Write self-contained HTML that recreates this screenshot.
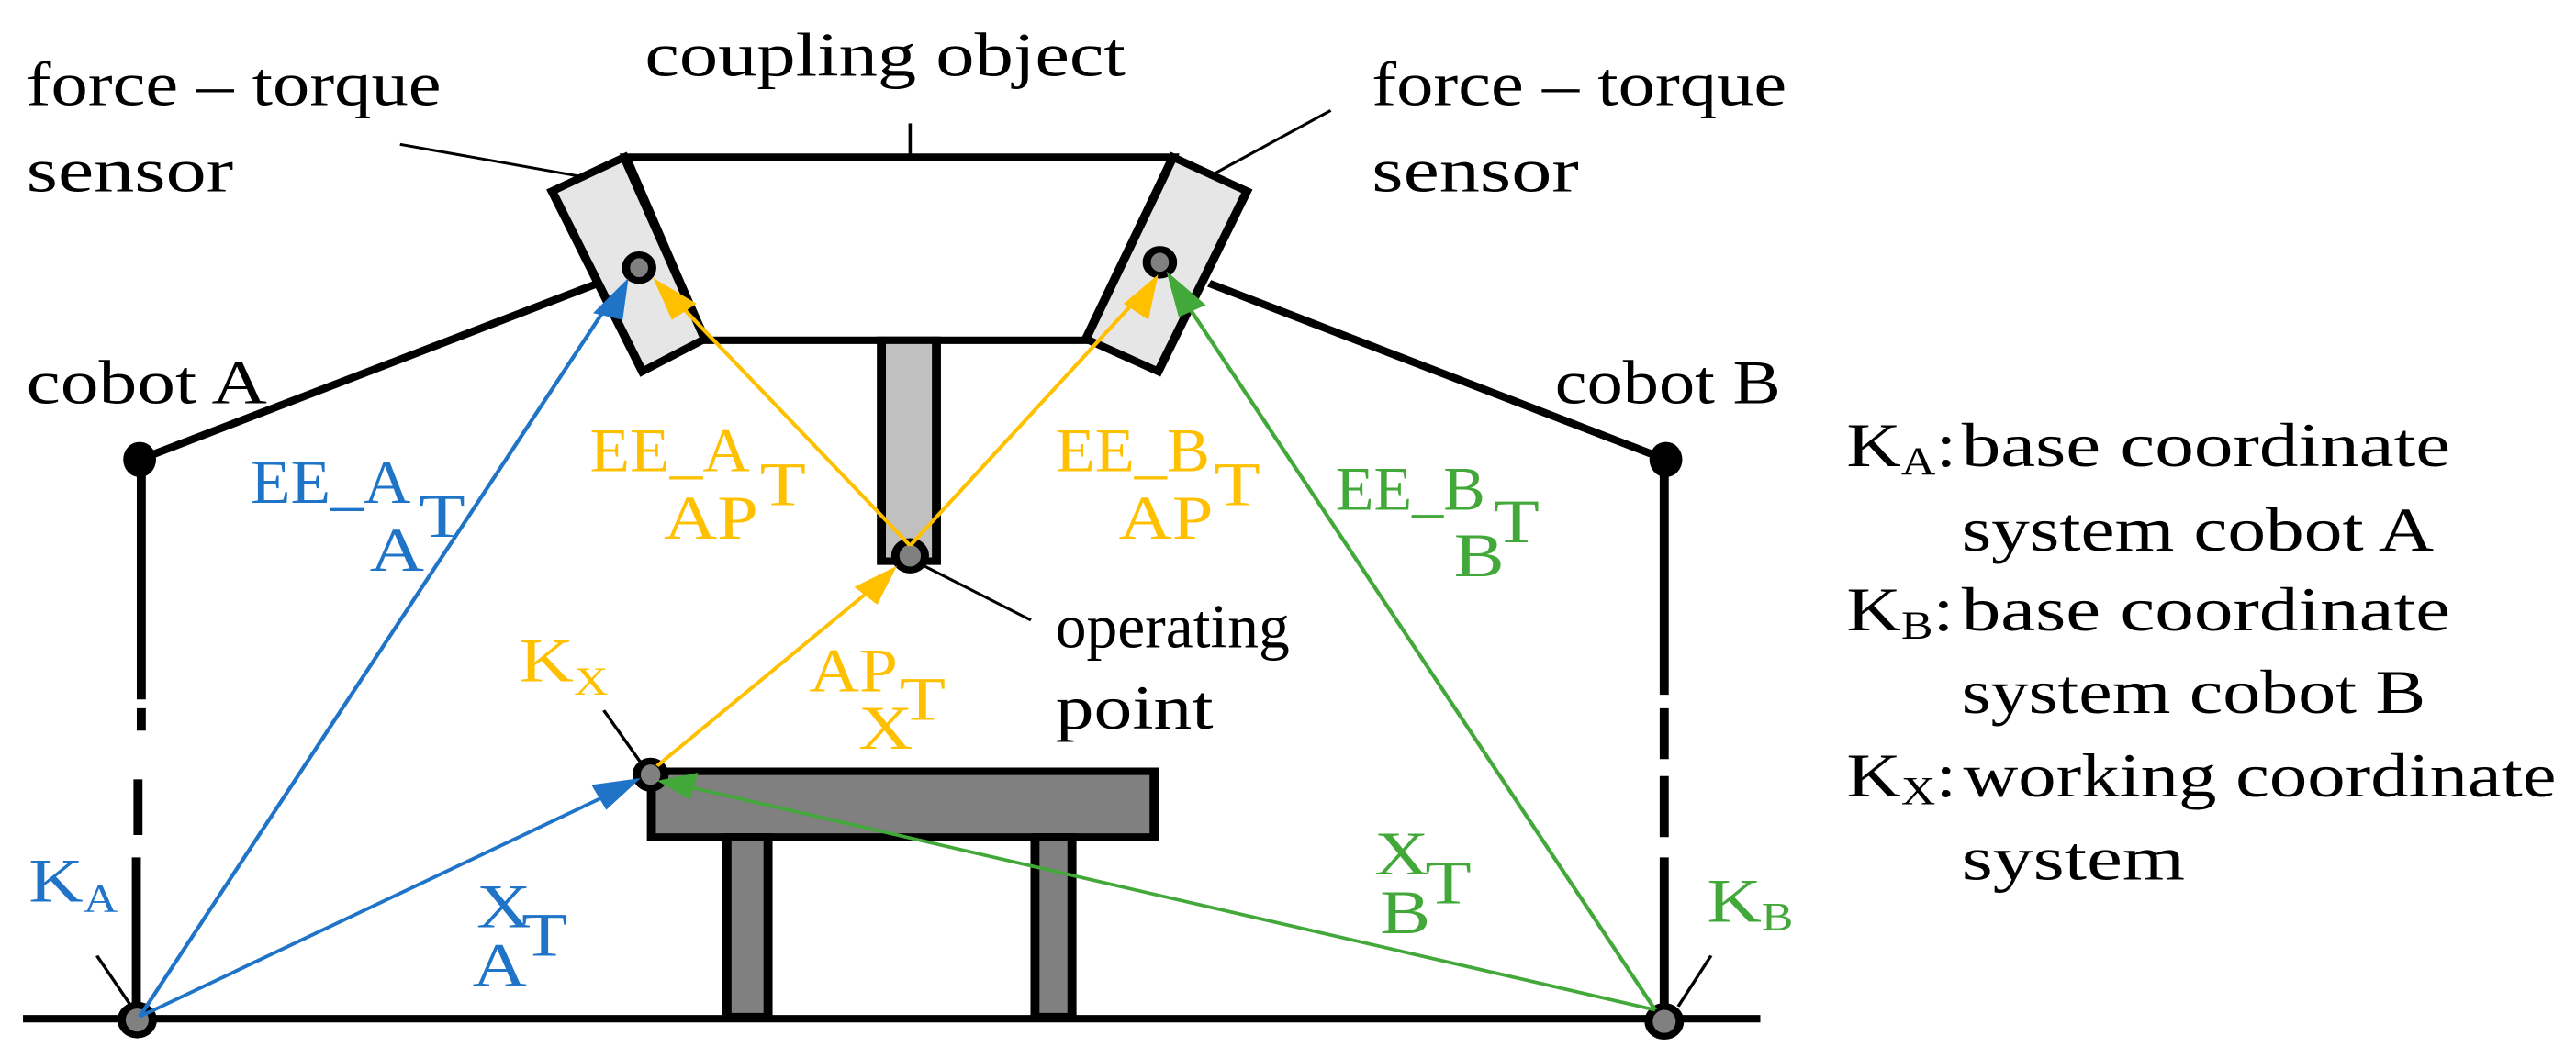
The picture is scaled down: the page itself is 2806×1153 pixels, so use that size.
<!DOCTYPE html>
<html><head><style>html,body{margin:0;padding:0;background:#fff;overflow:hidden}svg{display:block}</style></head><body>
<svg width="2806" height="1153" viewBox="0 0 3136 1561" preserveAspectRatio="none" xmlns="http://www.w3.org/2000/svg" font-family="'Liberation Serif', serif" font-size="92">
<g stroke="#000" stroke-width="11" fill="none">
<line x1="28" y1="1503" x2="2143" y2="1503"/>
<line x1="172" y1="680" x2="172" y2="1032"/>
<line x1="172" y1="1045" x2="172" y2="1078"/>
<line x1="168" y1="1150" x2="168" y2="1232"/>
<line x1="166" y1="1265" x2="166" y2="1495"/>
<line x1="2026" y1="680" x2="2026" y2="1025"/>
<line x1="2026" y1="1045" x2="2026" y2="1120"/>
<line x1="2026" y1="1145" x2="2026" y2="1235"/>
<line x1="2026" y1="1265" x2="2026" y2="1495"/>
<line x1="170" y1="678" x2="728" y2="418"/>
<line x1="1472" y1="418" x2="2028" y2="678"/>
</g>
<g stroke="#000" stroke-width="4">
<line x1="1108" y1="182" x2="1108" y2="232"/>
<line x1="487" y1="213" x2="715" y2="262"/>
<line x1="1480" y1="255" x2="1620" y2="163"/>
<line x1="1125" y1="835" x2="1255" y2="915"/>
<line x1="735" y1="1048" x2="780" y2="1125"/>
<line x1="118" y1="1410" x2="160" y2="1485"/>
<line x1="2083" y1="1410" x2="2043" y2="1485"/>
</g>
<ellipse cx="170" cy="678" rx="20" ry="26" fill="#000"/>
<ellipse cx="2028" cy="678" rx="20" ry="26" fill="#000"/>
<g stroke="#000" stroke-width="11" stroke-linejoin="miter">
<polygon points="762,232 1428,232 1325,502 858,502" fill="#fff"/>
<polygon points="672,282 760,232 858,500 782,548" fill="#e6e6e6"/>
<polygon points="1428,232 1518,282 1410,548 1322,500" fill="#e6e6e6"/>
<rect x="1073" y="502" width="67" height="326" fill="#c0c0c0"/>
<rect x="793" y="1138" width="612" height="97" fill="#808080"/>
<rect x="885" y="1235" width="50" height="265" fill="#808080"/>
<rect x="1260" y="1235" width="45" height="265" fill="#808080"/>
</g>
<g fill="#808080" stroke="#000" stroke-width="10">
<ellipse cx="778" cy="395" rx="16" ry="19"/>
<ellipse cx="1412" cy="387" rx="16" ry="19"/>
<ellipse cx="1108" cy="820" rx="18" ry="21"/>
<ellipse cx="792" cy="1143" rx="17" ry="20"/>
<ellipse cx="167" cy="1505" rx="19" ry="22"/>
<ellipse cx="2026" cy="1507" rx="19" ry="22"/>
</g>
<g stroke-width="5" fill="none">
<line x1="170" y1="1500" x2="745" y2="440" stroke="#1f74c8"/>
<line x1="170" y1="1500" x2="745" y2="1170" stroke="#1f74c8"/>
<line x1="1108" y1="805" x2="820" y2="440" stroke="#ffc000"/>
<line x1="1108" y1="805" x2="1385" y2="440" stroke="#ffc000"/>
<line x1="800" y1="1130" x2="1070" y2="860" stroke="#ffc000"/>
<line x1="2015" y1="1490" x2="1440" y2="440" stroke="#43a83a"/>
<line x1="2015" y1="1490" x2="835" y2="1160" stroke="#43a83a"/>
</g>
<g>
<polygon points="765,410 722,462 758,472" fill="#1f74c8"/>
<polygon points="780,1148 720,1158 738,1195" fill="#1f74c8"/>
<polygon points="795,410 818,472 848,448" fill="#ffc000"/>
<polygon points="1410,405 1368,448 1398,472" fill="#ffc000"/>
<polygon points="1092,835 1040,866 1068,892" fill="#ffc000"/>
<polygon points="1420,400 1435,468 1468,450" fill="#43a83a"/>
<polygon points="800,1152 850,1140 840,1180" fill="#43a83a"/>
</g>
<g fill="#000">
<text x="32" y="155" textLength="505" lengthAdjust="spacingAndGlyphs">force – torque</text>
<text x="32" y="282" textLength="252" lengthAdjust="spacingAndGlyphs">sensor</text>
<text x="785" y="112" textLength="585" lengthAdjust="spacingAndGlyphs">coupling object</text>
<text x="1670" y="155" textLength="505" lengthAdjust="spacingAndGlyphs">force – torque</text>
<text x="1670" y="282" textLength="252" lengthAdjust="spacingAndGlyphs">sensor</text>
<text x="32" y="595" textLength="293" lengthAdjust="spacingAndGlyphs">cobot A</text>
<text x="1893" y="595" textLength="275" lengthAdjust="spacingAndGlyphs">cobot B</text>
<text x="1285" y="955" textLength="285" lengthAdjust="spacingAndGlyphs">operating</text>
<text x="1285" y="1075" textLength="192" lengthAdjust="spacingAndGlyphs">point</text>
<text x="2248" y="688">K<tspan font-size="58" dy="12">A</tspan><tspan dy="-12">:</tspan></text>
<text x="2388" y="688" textLength="595" lengthAdjust="spacingAndGlyphs">base coordinate</text>
<text x="2388" y="812" textLength="575" lengthAdjust="spacingAndGlyphs">system cobot A</text>
<text x="2248" y="930">K<tspan font-size="58" dy="12">B</tspan><tspan dy="-12">:</tspan></text>
<text x="2388" y="930" textLength="595" lengthAdjust="spacingAndGlyphs">base coordinate</text>
<text x="2388" y="1052" textLength="565" lengthAdjust="spacingAndGlyphs">system cobot B</text>
<text x="2248" y="1175">K<tspan font-size="58" dy="12">X</tspan><tspan dy="-12">:</tspan></text>
<text x="2390" y="1175" textLength="722" lengthAdjust="spacingAndGlyphs">working coordinate</text>
<text x="2388" y="1298" textLength="272" lengthAdjust="spacingAndGlyphs">system</text>
</g>
<g fill="#1f74c8">
<text x="305" y="742" textLength="195" lengthAdjust="spacingAndGlyphs">EE_A</text><text x="510" y="792">T</text><text x="450" y="842">A</text>
<text x="580" y="1368">X</text><text x="635" y="1410">T</text><text x="575" y="1455">A</text>
<text x="35" y="1330">K<tspan font-size="58" dy="15">A</tspan></text>
</g>
<g fill="#ffc000">
<text x="718" y="695" textLength="195" lengthAdjust="spacingAndGlyphs">EE_A</text><text x="925" y="745">T</text><text x="808" y="795" textLength="115" lengthAdjust="spacingAndGlyphs">AP</text>
<text x="1285" y="695" textLength="188" lengthAdjust="spacingAndGlyphs">EE_B</text><text x="1478" y="745">T</text><text x="1362" y="795" textLength="115" lengthAdjust="spacingAndGlyphs">AP</text>
<text x="985" y="1020" textLength="108" lengthAdjust="spacingAndGlyphs">AP</text><text x="1095" y="1062">T</text><text x="1045" y="1105">X</text>
<text x="632" y="1005">K<tspan font-size="58" dy="20">X</tspan></text>
</g>
<g fill="#43a83a">
<text x="1626" y="752" textLength="182" lengthAdjust="spacingAndGlyphs">EE_B</text><text x="1818" y="800">T</text><text x="1770" y="850">B</text>
<text x="1673" y="1290">X</text><text x="1735" y="1333">T</text><text x="1680" y="1377">B</text>
<text x="2078" y="1360">K<tspan font-size="58" dy="12">B</tspan></text>
</g>
</svg>
</body></html>
